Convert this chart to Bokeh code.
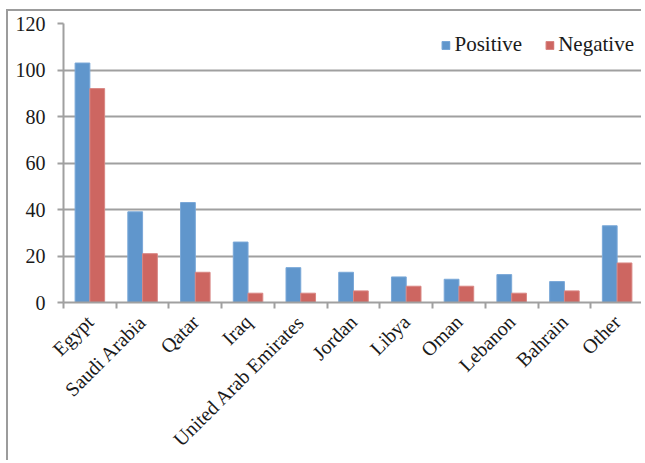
import math
from bokeh.plotting import figure
from bokeh.models import ColumnDataSource, FixedTicker, Range1d, Legend, LegendItem
from bokeh.transform import dodge
from bokeh.embed import file_html
from bokeh.resources import INLINE

categories = ["Egypt", "Saudi Arabia", "Qatar", "Iraq", "United Arab Emirates",
              "Jordan", "Libya", "Oman", "Lebanon", "Bahrain", "Other"]
positive = [103, 39, 43, 26, 15, 13, 11, 10, 12, 9, 33]
negative = [92, 21, 13, 4, 4, 5, 7, 7, 4, 5, 17]
y_ticks = [0, 20, 40, 60, 80, 100, 120]

centers = [i + 0.5 for i in range(len(categories))]
source = ColumnDataSource(dict(x=centers, cat=categories, pos=positive, neg=negative))

GRAY = "#a0a0a0"
FONT = "Liberation Serif"

p = figure(width=635, height=451, output_backend="svg", toolbar_location=None,
           x_range=Range1d(0, len(categories)), y_range=Range1d(0, 120),
           min_border_left=55, min_border_right=0, min_border_top=12,
           min_border_bottom=160)
p.styles = {"border-left": "2px solid #9c9c9c", "border-top": "2px solid #9c9c9c",
            "margin-left": "6px", "margin-top": "9px"}

bw = 0.28
r1 = p.vbar(x=dodge("x", -bw / 2), top="pos", width=bw, source=source,
            fill_color="#6096CC", line_color="#7aa8d8", line_width=1)
r2 = p.vbar(x=dodge("x", bw / 2), top="neg", width=bw, source=source,
            fill_color="#CD6661", line_color="#d98683", line_width=1)

p.outline_line_color = None
p.background_fill_color = "white"
p.border_fill_color = "white"

# x axis: labels at centres, tick marks at category boundaries
xa = p.xaxis[0]
xa.ticker = FixedTicker(ticks=centers, minor_ticks=list(range(len(categories) + 1)))
xa.major_label_overrides = {c: n for c, n in zip(centers, categories)}
xa.major_label_orientation = math.pi / 4
xa.major_tick_line_color = None
xa.minor_tick_line_color = GRAY
xa.minor_tick_line_width = 2
xa.minor_tick_out = 6
xa.minor_tick_in = 0
xa.axis_line_color = GRAY
xa.axis_line_width = 2
xa.major_label_text_font = FONT
xa.major_label_text_font_size = "20px"
xa.major_label_text_color = "#1a1a1a"
xa.major_label_standoff = 10

ya = p.yaxis[0]
ya.ticker = FixedTicker(ticks=y_ticks)
ya.axis_line_color = GRAY
ya.axis_line_width = 2
ya.major_tick_line_color = GRAY
ya.major_tick_line_width = 2
ya.major_tick_out = 6
ya.major_tick_in = 0
ya.minor_tick_line_color = None
ya.major_label_text_font = FONT
ya.major_label_text_font_size = "20px"
ya.major_label_text_color = "#1a1a1a"
ya.major_label_standoff = 12

p.xgrid.grid_line_color = None
p.ygrid.grid_line_color = GRAY
p.ygrid.grid_line_width = 2
p.ygrid.ticker = FixedTicker(ticks=y_ticks)

legend = Legend(items=[LegendItem(label="Positive", renderers=[r1]),
                       LegendItem(label="Negative", renderers=[r2])],
                location="top_right", orientation="horizontal")
legend.border_line_color = None
legend.background_fill_alpha = 0
legend.label_text_font = FONT
legend.label_text_font_size = "21px"
legend.label_text_color = "#1a1a1a"
legend.glyph_width = 10
legend.glyph_height = 10
legend.label_standoff = 4
legend.spacing = 22
legend.padding = 0
legend.margin = 9
p.add_layout(legend)

open("out.html", "w").write(file_html(p, INLINE))
